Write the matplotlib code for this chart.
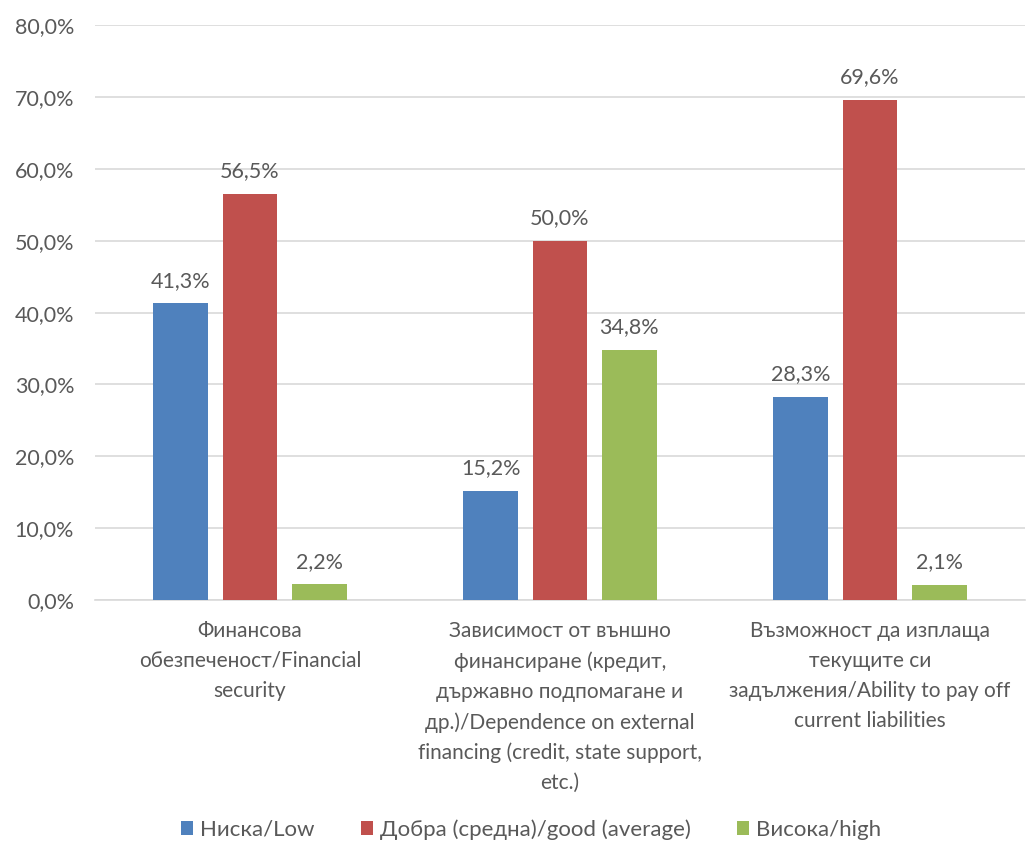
import numpy as np
import matplotlib.pyplot as plt

plt.rcParams['font.family'] = ['Lato', 'DejaVu Sans']

categories = [
    'Финансова\nобезпеченост/Financial\nsecurity',
    'Зависимост от външно\nфинансиране (кредит,\nдържавно подпомагане и\nдр.)/Dependence on external\nfinancing (credit, state support,\netc.)',
    'Възможност да изплаща\nтекущите си\nзадължения/Ability to pay off\ncurrent liabilities',
]
series = ['Ниска/Low', 'Добра (средна)/good (average)', 'Висока/high']
low = [41.3, 15.2, 28.3]
good = [56.5, 50.0, 69.6]
high = [2.2, 34.8, 2.1]
colors = ['#4F81BD', '#C0504D', '#9BBB59']
yticks = np.arange(0, 81, 10)

TXT = '#595959'
FS = 15

fig = plt.figure(figsize=(10.27, 8.42), dpi=100)
ax = fig.add_axes([0.0925, 0.2874, 0.9055, 0.6826])

x = np.arange(len(categories))
step = 0.223
width = 0.177
for i, (vals, name) in enumerate(zip([low, good, high], series)):
    pos = x + (i - 1) * step
    ax.bar(pos, vals, width, color=colors[i], label=name, zorder=3)
    for xp, v in zip(pos, vals):
        ax.annotate(f'{v:.1f}%'.replace('.', ','), (xp, v), xytext=(0, 9),
                    textcoords='offset points', ha='center', va='bottom',
                    fontsize=FS + 0.5, color=TXT)

ax.set_xlim(-0.5, 2.5)
ax.set_ylim(0, 80)
ax.set_yticks(yticks)
ax.set_yticklabels([f'{t:.1f}%'.replace('.', ',') for t in yticks],
                   fontsize=FS + 0.5, color=TXT)
ax.set_xticks(x)
ax.set_xticklabels(categories, fontsize=FS, color=TXT)
for t in ax.get_xticklabels():
    t.set_linespacing(1.62)
ax.tick_params(axis='both', length=0)
ax.tick_params(axis='y', pad=15)
ax.tick_params(axis='x', pad=15)
ax.grid(axis='y', color='#D9D9D9', linewidth=1.2, zorder=0)
for s in ['top', 'right', 'left']:
    ax.spines[s].set_visible(False)
ax.spines['bottom'].set_color('#D9D9D9')
ax.spines['bottom'].set_linewidth(1.2)

fig.legend(loc='center', bbox_to_anchor=(0.517, 0.015), ncol=3, frameon=False,
           fontsize=16, labelcolor=TXT, handlelength=0.55, handleheight=0.55,
           handletextpad=0.3, columnspacing=2.1)

fig.savefig('out.png', dpi=100)
